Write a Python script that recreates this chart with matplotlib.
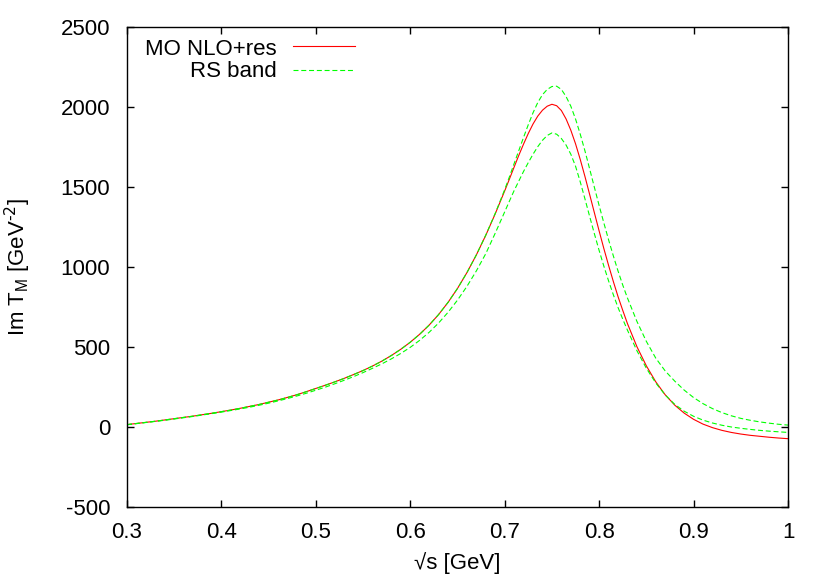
import matplotlib
matplotlib.use("Agg")
import matplotlib.pyplot as plt
import numpy as np

plt.rcParams['font.family'] = ['Liberation Sans', 'DejaVu Sans']
plt.rcParams['axes.unicode_minus'] = False

# sqrt(s) in GeV
x = [0.30, 0.31, 0.32, 0.33, 0.34, 0.35, 0.36, 0.37, 0.38, 0.39,
     0.40, 0.41, 0.42, 0.43, 0.44, 0.45, 0.46, 0.47, 0.48, 0.49,
     0.50, 0.51, 0.52, 0.53, 0.54, 0.55, 0.56, 0.57, 0.58, 0.59,
     0.60, 0.61, 0.62, 0.63, 0.64, 0.65, 0.66, 0.67, 0.68, 0.69,
     0.700, 0.705, 0.710, 0.715, 0.720, 0.725, 0.730, 0.735, 0.740, 0.745,
     0.750, 0.755, 0.760, 0.765, 0.770, 0.775, 0.780, 0.785, 0.790, 0.795,
     0.800, 0.805, 0.810, 0.815, 0.820, 0.825, 0.830,
     0.84, 0.85, 0.86, 0.87, 0.88, 0.89,
     0.90, 0.91, 0.92, 0.93, 0.94, 0.95, 0.96, 0.97, 0.98, 0.99, 1.00]

# central curve (MO NLO+res)
central = [15, 22, 29, 36, 44, 52, 60, 68, 77, 86,
           96, 106, 117, 129, 141, 155, 169, 185, 202, 221,
           241, 261, 282, 304, 328, 353, 381, 412, 447, 486,
           530, 580, 637, 703, 779, 866, 965, 1076, 1199, 1333,
           1476, 1550, 1625, 1699, 1769, 1835, 1894, 1943, 1980, 2005,
           2017, 2008, 1978, 1925, 1855, 1770, 1672, 1565, 1452, 1338,
           1225, 1115, 1010, 910, 815, 729, 646,
           502, 382, 282, 201, 137, 87,
           48, 18, -4, -21, -34, -44, -52, -58, -64, -69, -73]

# RS band, upper edge
band_hi = [15, 22, 29, 36, 44, 52, 60, 68, 77, 86,
           96, 106, 117, 129, 141, 155, 169, 185, 202, 221,
           241, 261, 282, 304, 328, 353, 381, 412, 447, 486,
           530, 580, 637, 703, 779, 866, 965, 1076, 1200, 1336,
           1484, 1564, 1647, 1729, 1811, 1890, 1964, 2028, 2077, 2110,
           2128, 2130, 2110, 2065, 2005, 1925, 1830, 1725, 1612, 1497,
           1384, 1275, 1170, 1070, 975, 887, 806,
           660, 535, 430, 350, 287, 231,
           184, 146, 115, 90, 70, 54, 42, 32, 24, 17, 12]

# RS band, lower edge
band_lo = [14, 21, 28, 35, 42, 50, 58, 66, 75, 84,
           93, 103, 113, 124, 136, 149, 163, 178, 194, 211,
           230, 249, 270, 292, 315, 340, 367, 395, 426, 460,
           498, 542, 592, 650, 717, 793, 879, 976, 1084, 1212,
           1345, 1412, 1478, 1538, 1598, 1653, 1705, 1752, 1792, 1822,
           1838, 1830, 1803, 1762, 1705, 1630, 1532, 1425, 1315, 1207,
           1103, 1005, 913, 827, 747, 674, 605,
           477, 367, 275, 200, 142, 99,
           67, 43, 25, 11, 0, -8, -15, -21, -26, -30, -34]

fs = 16
fig = plt.figure(figsize=(8.3, 5.81), dpi=100)
ax = fig.add_axes([127 / 830, 74 / 581, 661 / 830, 480 / 581])

dash = (0, (4.5, 2.5))
ax.plot(x, central, color='#ff0000', lw=0.8)
ax.plot(x, band_hi, color='#00ff00', lw=0.8, linestyle=dash)
ax.plot(x, band_lo, color='#00ff00', lw=0.8, linestyle=dash)

ax.set_xlim(0.3, 1.0)
ax.set_ylim(-500, 2500)
ax.set_xticks(np.arange(0.3, 1.01, 0.1))
ax.set_xticklabels(['0.3', '0.4', '0.5', '0.6', '0.7', '0.8', '0.9', '1'])
ax.set_yticks(np.arange(-500, 2501, 500))
ax.tick_params(direction='in', length=5, width=1, top=True, right=True,
               labelsize=fs)
ax.tick_params(axis='x', pad=10.5)
ax.tick_params(axis='y', pad=12)
for s in ax.spines.values():
    s.set_linewidth(1)

ax.set_xlabel('√s [GeV]', fontsize=fs)
ax.set_ylabel('Im T$_\\mathregular{M}$ [GeV$^{\\text{-2}}$]', fontsize=fs)
ax.xaxis.set_label_coords(0.5, -0.093)
ax.yaxis.set_label_coords(-0.142, 0.5)

# gnuplot-style key: text right-aligned, sample to the right
tr = ax.transAxes
ax.text(0.227, 0.9423, 'MO NLO+res', transform=tr, ha='right', va='baseline', fontsize=fs)
ax.plot([0.251, 0.345], [0.9598, 0.9598], transform=tr, color='#ff0000', lw=0.8)
ax.text(0.227, 0.8958, 'RS band', transform=tr, ha='right', va='baseline', fontsize=fs)
ax.plot([0.251, 0.345], [0.9110, 0.9110], transform=tr, color='#00ff00', lw=0.8,
        linestyle=dash)

fig.savefig('out.png', dpi=100)
